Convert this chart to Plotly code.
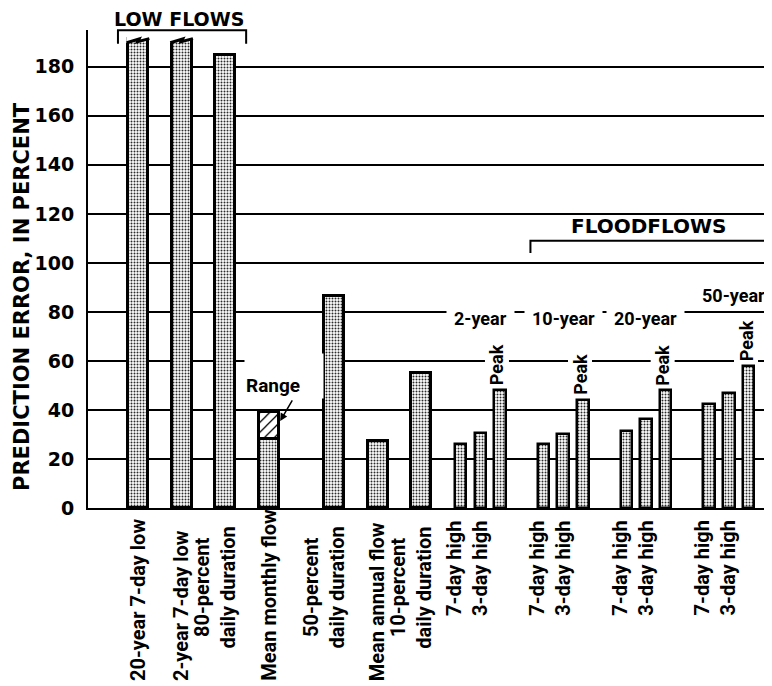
import plotly.graph_objects as go

# ---------------- data ----------------
low_labels = ["20-year 7-day low", "2-year 7-day low", "80-percent<br>daily duration",
              "Mean monthly flow", "50-percent<br>daily duration", "Mean annual flow",
              "10-percent<br>daily duration"]
low_values = [191.5, 191.5, 185, 28, 86.5, 27.5, 55]
low_broken = [True, True, False, False, False, False, False]
monthly_range = [28, 39]          # range of mean monthly flow error

flood_periods = ["2-year", "10-year", "20-year", "50-year"]
flood_kinds = ["7-day high", "3-day high", "Peak"]
flood_7day = [26, 26, 31.5, 42.5]
flood_3day = [30.5, 30, 36.5, 47]
flood_peak = [48, 44, 48, 58]

y_ticks = [0, 20, 40, 60, 80, 100, 120, 140, 160, 180]
y_title = "PREDICTION ERROR, IN PERCENT"

# ---------------- layout helpers ----------------
low_x = [0, 1, 2, 3, 4.5, 5.5, 6.5]
LOW_W = 0.46
FL_W = 0.265
def fx(g, b):
    return 7.4 + 1.9 * g + 0.45 * b

FONT = "Roboto, Arial, sans-serif"
HFONT = "DejaVu Sans, Verdana, sans-serif"
stipple = dict(shape=".", fgcolor="#2a2a2a", bgcolor="white", size=3, solidity=0.35, fillmode="replace")

fig = go.Figure()

# low-flow and other characteristics
fig.add_trace(go.Bar(x=low_x, y=low_values, width=LOW_W,
                     marker=dict(color="white", line=dict(color="black", width=3), pattern=stipple),
                     showlegend=False, hoverinfo="skip"))
# range part of mean monthly flow
fig.add_trace(go.Bar(x=[low_x[3]], y=[monthly_range[1] - monthly_range[0]], base=[monthly_range[0]],
                     width=LOW_W,
                     marker=dict(color="white", line=dict(color="black", width=3),
                                 pattern=dict(shape="/", fgcolor="black", bgcolor="white", size=7,
                                              solidity=0.18, fillmode="replace")),
                     showlegend=False, hoverinfo="skip"))
# floodflows
fx_all, fy_all = [], []
for g in range(len(flood_periods)):
    for b, vals in enumerate([flood_7day, flood_3day, flood_peak]):
        fx_all.append(fx(g, b))
        fy_all.append(vals[g])
fig.add_trace(go.Bar(x=fx_all, y=fy_all, width=FL_W,
                     marker=dict(color="white", line=dict(color="black", width=2.5), pattern=stipple),
                     showlegend=False, hoverinfo="skip"))

shapes = []
annotations = []

# broken tops (zigzag) on off-scale bars
for xi, v, br in zip(low_x, low_values, low_broken):
    if not br:
        continue
    x0, x1 = xi - LOW_W / 2, xi + LOW_W / 2
    ylo = v - 1.7
    pts_cut = [(x0 - 0.04, ylo), (x0 + 0.55 * LOW_W, v - 0.2), (x0 + 0.48 * LOW_W, ylo + 0.4),
               (x1 + 0.04, v), (x1 + 0.04, v + 3), (x0 - 0.04, v + 3)]
    path = "M " + " L ".join(f"{a},{b}" for a, b in pts_cut) + " Z"
    shapes.append(dict(type="path", path=path, xref="x", yref="y", fillcolor="white",
                       line=dict(width=0), layer="above"))
    zz = [(x0 - 0.03, ylo), (x0 + 0.55 * LOW_W, v - 0.2), (x0 + 0.48 * LOW_W, ylo + 0.4), (x1 + 0.03, v)]
    path2 = "M " + " L ".join(f"{a},{b}" for a, b in zz)
    shapes.append(dict(type="path", path=path2, xref="x", yref="y",
                       line=dict(color="black", width=3), layer="above"))

# LOW FLOWS bracket
bx0, bx1 = low_x[0] - 0.46, low_x[2] + 0.48
shapes.append(dict(type="path", xref="x", yref="paper",
                   path=f"M {bx0},0.971 L {bx0},0.9995 L {bx1},0.9995 L {bx1},0.971",
                   line=dict(color="black", width=2)))
annotations.append(dict(text="LOW FLOWS", x=(low_x[0] + low_x[2]) / 2 - 0.05, y=1.0225, xref="x", yref="paper",
                        xanchor="center", yanchor="middle", showarrow=False,
                        font=dict(family=HFONT, size=19, color="black", weight="bold")))
# FLOODFLOWS bracket
fb0, fb1 = fx(0, 0) + 1.6, fx(3, 2) + 0.4
shapes.append(dict(type="path", xref="x", yref="y",
                   path=f"M {fb0},104 L {fb0},109 L {fb1},109 L {fb1},104",
                   line=dict(color="black", width=2)))
annotations.append(dict(text="FLOODFLOWS", x=(fb0 + fb1) / 2, y=115, xref="x", yref="y",
                        xanchor="center", yanchor="middle", showarrow=False,
                        font=dict(family=HFONT, size=20, color="black", weight="bold")))

# bottom labels for low-flow bars
LBL = dict(family=FONT, size=20, color="black", weight="bold")
for xi, lab in zip(low_x, low_labels):
    two = "<br>" in lab
    if two:
        annotations.append(dict(text=lab, x=xi + LOW_W / 2 + 0.15, y=-0.035, xref="x", yref="paper",
                                xanchor="right", yanchor="top", textangle=-90, showarrow=False, font=LBL))
    else:
        annotations.append(dict(text=lab, x=xi, y=-0.366, xref="x", yref="paper",
                                xanchor="center", yanchor="bottom", textangle=-90, showarrow=False, font=LBL))

SM = dict(family=FONT, size=18, color="black", weight="bold")
# floodflow labels
for g, per in enumerate(flood_periods):
    annotations.append(dict(text=flood_kinds[0] + "<br>" + flood_kinds[1],
                            x=fx(g, 1) + FL_W / 2 + 0.18, y=-0.022, xref="x", yref="paper",
                            xanchor="right", yanchor="top", textangle=-90, showarrow=False, font=LBL))
    annotations.append(dict(text=flood_kinds[2], x=fx(g, 2) - 0.06, y=flood_peak[g], xref="x", yref="y",
                            xanchor="center", yanchor="bottom", yshift=3, textangle=-90, showarrow=False,
                            bgcolor="white", borderpad=1, font=SM))
    cx = fx(g, 1)
    if g < 3:
        annotations.append(dict(text=per, x=cx, y=77.3, xref="x", yref="y", showarrow=False,
                                xanchor="center", yanchor="middle",
                                bgcolor="white", borderpad=7, font=SM))
    else:
        annotations.append(dict(text=per, x=cx + 0.1, y=86.8, xref="x", yref="y", showarrow=False,
                                xanchor="center", yanchor="middle", font=SM))

# Range label and arrow
annotations.append(dict(text="Range", x=low_x[3] - 0.57, y=44.5, xref="x", yref="y",
                        xanchor="left", yanchor="bottom", width=76, height=42, align="left", valign="bottom",
                        showarrow=False, bgcolor="white", borderpad=1,
                        font=dict(family=FONT, size=19, color="black", weight="bold")))
annotations.append(dict(text="", x=low_x[3] + LOW_W / 2 + 0.03, y=35.5, xref="x", yref="y",
                        ax=13, ay=-22, showarrow=True, arrowhead=2, arrowsize=1, arrowwidth=1.5,
                        arrowcolor="black"))

# y title
annotations.append(dict(text=y_title, x=-0.0965, y=0.4435, xref="paper", yref="paper",
                        xanchor="center", yanchor="middle", textangle=-90, showarrow=False,
                        font=dict(family=HFONT, size=21, color="black", weight="bold")))

# page body has an 8 px margin, so the figure is 8 px smaller and offset
fig.update_layout(
    width=764, height=678,
    margin=dict(l=80, r=0, t=22, b=178, autoexpand=False),
    paper_bgcolor="white", plot_bgcolor="white",
    barmode="overlay", bargap=0,
    shapes=shapes, annotations=annotations,
    xaxis=dict(range=[-1.147, 14.54], showgrid=False, zeroline=False, showticklabels=False,
               showline=True, linecolor="black", linewidth=2, ticks=""),
    yaxis=dict(range=[0, 195], tickvals=y_ticks, showgrid=True, gridcolor="black", gridwidth=1.5,
               zeroline=False, showline=True, linecolor="black", linewidth=2, ticks="",
               ticklabelstandoff=8,
               tickfont=dict(family=HFONT, size=19, color="black", weight="bold")),
)

fig.write_html("out.html")
